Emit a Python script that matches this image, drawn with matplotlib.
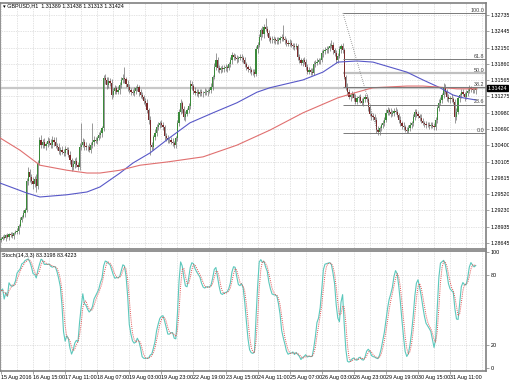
import numpy as np
import pandas as pd
import matplotlib
matplotlib.use("Agg")
import matplotlib.pyplot as plt
from matplotlib import font_manager
from matplotlib.transforms import blended_transform_factory

names = {f.name for f in font_manager.fontManager.ttflist}
if "Liberation Sans Narrow" in names:
    plt.rcParams["font.family"] = ["Liberation Sans Narrow", "DejaVu Sans"]
    fs = 5
elif "DejaVu Sans Condensed" in names:
    plt.rcParams["font.family"] = ["DejaVu Sans Condensed", "DejaVu Sans"]
    fs = 4.4
else:
    plt.rcParams["font.family"] = ["Liberation Sans", "DejaVu Sans"]
    fs = 3.9

# prices are in pips above 1.2800
base = 1.28
first_open = 70
close_pips = [
    72, 75, 73, 78, 76, 80, 79, 77, 82, 84,
    86, 95, 106, 112, 118, 124, 175, 192, 182, 176,
    170, 180, 166, 208, 249, 240, 246, 238, 242, 248,
    244, 240, 250, 246, 238, 237, 230, 232, 228, 226,
    233, 231, 222, 213, 201, 206, 212, 205, 201, 237,
    240, 246, 238, 236, 237, 232, 240, 245, 250, 248,
    253, 258, 262, 270, 360, 356, 348, 355, 352, 330,
    338, 342, 336, 339, 348, 356, 360, 358, 350, 344,
    339, 336, 334, 338, 342, 344, 336, 330, 326, 320,
    316, 303, 285, 240, 237, 254, 262, 273, 276, 280,
    276, 272, 256, 252, 249, 249, 246, 244, 240, 252,
    280, 300, 316, 305, 290, 296, 303, 310, 350, 346,
    338, 334, 336, 332, 335, 333, 334, 336, 335, 337,
    339, 345, 362, 380, 392, 378, 375, 378, 376, 378,
    380, 378, 385, 392, 402, 398, 396, 394, 396, 398,
    396, 392, 385, 380, 376, 374, 372, 371, 368, 412,
    420, 434, 446, 440, 452, 448, 442, 432, 429, 428,
    430, 428, 426, 429, 432, 434, 430, 428, 423, 422,
    424, 420, 418, 416, 418, 398, 392, 388, 392, 390,
    380, 372, 375, 372, 370, 386, 388, 390, 392, 393,
    405, 408, 410, 412, 414, 418, 420, 410, 405, 392,
    400, 412, 418, 410, 362, 345, 335, 326, 330, 332,
    325, 318, 324, 326, 320, 316, 322, 326, 322, 308,
    296, 292, 290, 286, 268, 264, 270, 276, 280, 286,
    298, 303, 300, 296, 298, 302, 300, 294, 286, 280,
    275, 272, 268, 266, 270, 276, 280, 290, 300, 296,
    292, 289, 284, 280, 278, 276, 277, 275, 276, 274,
    272, 285, 306, 316, 321, 330, 345, 336, 326, 322,
    325, 322, 318, 290, 300, 324, 330, 335, 332, 326,
    334, 338, 342, 340, 339, 338.9, 342.4,
]
upper_wick = [
    3, 4, 6, 3, 5, 2, 4, 6, 3, 4,
    5, 4, 6, 3, 5, 4, 6, 8, 5, 7,
    6, 4, 8, 5, 6, 9, 5, 7, 4, 6,
    5, 7, 6, 4, 8, 5, 6, 4, 7, 5,
    6, 4, 5, 7, 4, 8, 5, 6, 4, 7,
    40, 6, 5, 7, 4, 6, 5, 35, 6, 5,
    4, 6, 5, 4, 5, 7, 6, 8, 5, 6,
    5, 6, 4, 7, 5, 6, 8, 20, 5, 6,
    6, 4, 5, 7, 5, 6, 4, 5, 6, 4,
    5, 6, 4, 8, 6, 5, 7, 5, 6, 4,
    5, 6, 4, 5, 6, 4, 5, 6, 4, 5,
    6, 5, 7, 4, 6, 5, 4, 6, 7, 5,
    4, 6, 5, 4, 6, 5, 4, 6, 5, 4,
    5, 6, 4, 7, 13, 6, 5, 4, 6, 5,
    6, 4, 5, 6, 5, 4, 6, 5, 4, 6,
    5, 4, 6, 5, 4, 6, 5, 4, 5, 6,
    5, 6, 4, 7, 5, 16, 6, 5, 4, 6,
    5, 4, 6, 5, 4, 6, 22, 5, 4, 6,
    6, 5, 4, 6, 5, 4, 6, 5, 4, 6,
    4, 6, 5, 4, 6, 5, 4, 6, 5, 4,
    5, 4, 6, 5, 4, 6, 9, 5, 4, 6,
    6, 5, 4, 6, 5, 4, 6, 5, 4, 6,
    4, 6, 5, 4, 6, 5, 4, 6, 5, 4,
    5, 4, 6, 5, 4, 6, 5, 4, 6, 5,
    6, 5, 4, 6, 5, 4, 6, 5, 4, 6,
    4, 6, 5, 4, 6, 5, 4, 6, 5, 4,
    5, 4, 6, 5, 4, 6, 5, 4, 6, 5,
    6, 5, 4, 6, 5, 4, 6, 5, 4, 6,
    4, 6, 5, 4, 6, 5, 4, 6, 5, 4,
    5, 4, 6, 5, 4, 6, 1.4,
]
lower_wick = [
    4, 3, 2, 5, 3, 6, 4, 3, 5, 2,
    3, 5, 2, 4, 3, 6, 4, 7, 9, 6,
    8, 5, 10, 4, 3, 6, 5, 4, 7, 5,
    4, 6, 5, 7, 4, 6, 5, 8, 4, 6,
    5, 7, 4, 6, 8, 5, 7, 4, 6, 5,
    5, 4, 7, 5, 6, 4, 6, 5, 7, 4,
    6, 4, 5, 7, 4, 6, 8, 5, 6, 7,
    4, 6, 5, 4, 7, 5, 4, 6, 5, 7,
    5, 6, 4, 5, 6, 4, 7, 5, 4, 6,
    6, 5, 7, 18, 5, 6, 4, 5, 6, 5,
    4, 5, 6, 4, 5, 6, 4, 5, 5, 6,
    5, 6, 4, 7, 5, 6, 4, 5, 6, 7,
    6, 4, 5, 6, 4, 5, 6, 4, 5, 6,
    4, 5, 6, 4, 5, 7, 5, 6, 4, 5,
    5, 6, 4, 5, 6, 5, 4, 6, 5, 4,
    6, 5, 4, 6, 5, 4, 6, 5, 6, 4,
    6, 4, 5, 6, 7, 4, 6, 5, 6, 4,
    4, 6, 5, 4, 6, 5, 4, 6, 5, 4,
    5, 4, 6, 5, 4, 6, 5, 4, 6, 5,
    6, 5, 4, 6, 5, 4, 6, 5, 4, 6,
    4, 6, 5, 4, 6, 5, 4, 6, 5, 4,
    5, 4, 6, 5, 4, 6, 5, 4, 6, 5,
    6, 5, 4, 6, 5, 4, 6, 5, 4, 6,
    4, 6, 5, 4, 6, 6, 5, 4, 6, 5,
    5, 4, 6, 5, 4, 6, 5, 4, 6, 5,
    6, 5, 4, 4, 5, 4, 6, 5, 4, 6,
    4, 6, 5, 4, 6, 5, 4, 6, 5, 4,
    5, 4, 6, 5, 4, 6, 5, 4, 6, 5,
    6, 5, 4, 10, 5, 4, 6, 5, 4, 6,
    4, 6, 5, 4, 6, 5, 7.6,
]

# moving averages read at sample bars
blue_ma_bar = [-0.6, 16.2, 24.3, 41.1, 53.6, 61.7, 74.2, 82.3, 92.9, 104.1, 117.8, 132.2, 147.1,
               159.6, 167.7, 188.3, 200.7, 210.1, 221.9, 231.9, 242.5, 253.1, 263.1, 273.7,
               281.8, 288.0, 296.1]
blue_ma_pips = [172, 154, 147, 151, 156, 165, 190, 208, 226, 251, 280, 298, 316,
                335, 343, 357, 371, 389, 391, 389, 380, 371, 357, 343,
                330, 325, 321]
red_ma_bar = [-0.6, 11.8, 24.3, 41.1, 53.6, 61.7, 74.2, 86.7, 104.1, 126.0, 147.1, 167.7,
              188.3, 210.1, 221.9, 231.9, 253.1, 263.1, 273.7, 284.3, 296.8]
red_ma_pips = [253, 231, 204, 195, 190, 190, 195, 204, 210, 219, 240, 267,
               298, 325, 335, 343, 346, 346, 344, 341, 341]

fib_high = 1.32771
fib_low = 1.30618
fib_bars = [213.2, 235.0]
fib_levels = [100.0, 61.8, 50.0, 38.2, 23.6, 0.0]

price_ticks = [1.32735, 1.32445, 1.32150, 1.31860, 1.31565, 1.31275, 1.30980, 1.30690,
               1.30400, 1.30105, 1.29815, 1.29520, 1.29230, 1.28935, 1.28645]
bid = 1.31424
time_labels = ["15 Aug 2016", "16 Aug 15:00", "17 Aug 11:00", "18 Aug 07:00", "19 Aug 03:00",
               "19 Aug 23:00", "22 Aug 19:00", "23 Aug 15:00", "24 Aug 11:00", "25 Aug 07:00",
               "26 Aug 03:00", "26 Aug 23:00", "29 Aug 19:00", "30 Aug 15:00", "31 Aug 11:00"]
stoch_ticks = [0, 20, 80, 100]

close = base + np.array(close_pips) / 1e4
opn = np.concatenate([[base + first_open / 1e4], close[:-1]])
high = np.maximum(opn, close) + np.array(upper_wick) / 1e4
low = np.minimum(opn, close) - np.array(lower_wick) / 1e4
idx = np.arange(len(close))

# Stoch(14,3,3)
df = pd.DataFrame({"h": high, "l": low, "c": close})
ll = df.l.rolling(14, min_periods=1).min()
hh = df.h.rolling(14, min_periods=1).max()
k = 100 * (df.c - ll).rolling(3, min_periods=1).sum() / (hh - ll).rolling(3, min_periods=1).sum()
d = k.rolling(3, min_periods=1).mean()

W, H = 510, 382
fig = plt.figure(figsize=(W / 100, H / 100), dpi=100)
ax1 = fig.add_axes([0, 1 - 249 / H, 486 / W, 246 / H])
ax2 = fig.add_axes([0, 1 - 371 / H, 486 / W, 120 / H])

xlim = (-0.62, 302.4)
frame = "#808080"
grid = "#c8c8c8"

for ax in (ax1, ax2):
    ax.set_xlim(*xlim)
    for x in range(0, 310, 10):
        ax.axvline(x, color=grid, lw=0.5, ls=(0, (1, 1.5)), zorder=0)
    for s in ax.spines.values():
        s.set_color(frame)
        s.set_linewidth(1.2)
    ax.yaxis.tick_right()
    ax.tick_params(axis="y", length=2, width=0.5, color=frame, labelsize=fs, pad=1.5)

# main panel
ax1.set_ylim(1.28537, 1.32950)
for p in price_ticks:
    ax1.axhline(p, color=grid, lw=0.5, ls=(0, (1, 1.5)), zorder=0)
ax1.axhline(bid, color="#c8c8c8", lw=1.6, zorder=1)

ax1.vlines(idx, low, high, color="#707070", lw=0.5, zorder=2)
colors = np.where(close >= opn, "#3a8a3a", "#7a2a2a")
ax1.bar(idx, close - opn, bottom=opn, width=0.75, color=colors, linewidth=0, zorder=3)

ax1.plot(blue_ma_bar, base + np.array(blue_ma_pips) / 1e4, color="#5858c8", lw=0.8, zorder=4)
ax1.plot(red_ma_bar, base + np.array(red_ma_pips) / 1e4, color="#e07070", lw=0.8, zorder=4)

for lv in fib_levels:
    p = fib_low + (fib_high - fib_low) * lv / 100
    if lv == 50.0:
        ax1.hlines(p, fib_bars[0], xlim[1], color="#c0c0c0", lw=1.6, zorder=1)
    else:
        ax1.hlines(p, fib_bars[0], xlim[1], color="#7a7a7a", lw=0.7, zorder=5)
    ax1.text(xlim[1] - 1.2, p + 0.00004, f"{lv:.1f}", ha="right", va="bottom",
             fontsize=fs, color="#404040", zorder=6)
ax1.plot(fib_bars, [fib_high, fib_low], color="#808080", lw=0.6, ls=(0, (1, 1.5)), zorder=5)

ax1.set_yticks(price_ticks)
ax1.set_yticklabels([f"{p:.5f}" for p in price_ticks])
ax1.set_xticks([])
tr = blended_transform_factory(ax1.transAxes, ax1.transData)
ax1.text(1.004, bid, f"{bid:.5f}", transform=tr, ha="left", va="center", fontsize=fs,
         color="white", bbox=dict(boxstyle="square,pad=0.15", fc="black", ec="black"), zorder=7)
fig.text(3 / W, 1 - 6 / H, "\u25be GBPUSD,H1  1.31389 1.31438 1.31313 1.31424",
         fontsize=fs, va="center", ha="left")

# stochastic panel
ax2.set_ylim(-2.6, 100.9)
for lv in (20, 80):
    ax2.axhline(lv, color=grid, lw=0.5, ls=(0, (1, 1.5)), zorder=0)
ax2.plot(idx, k, color="#5cc8bc", lw=0.8, zorder=3)
ax2.plot(idx, d, color="#e05050", lw=0.7, ls=(0, (1, 1.2)), zorder=4)
ax2.set_yticks(stoch_ticks)
ax2.set_yticklabels([str(v) for v in stoch_ticks])
ax2.set_xticks(range(0, 20 * len(time_labels), 20))
ax2.set_xticklabels(time_labels, ha="left")
ax2.tick_params(axis="x", length=2, width=0.5, color=frame, labelsize=fs, pad=1)
ax2.text(0.004, 0.985, "Stoch(14,3,3) 83.3198 83.4223", transform=ax2.transAxes,
         ha="left", va="top", fontsize=fs)

fig.savefig("out.png", dpi=100)
